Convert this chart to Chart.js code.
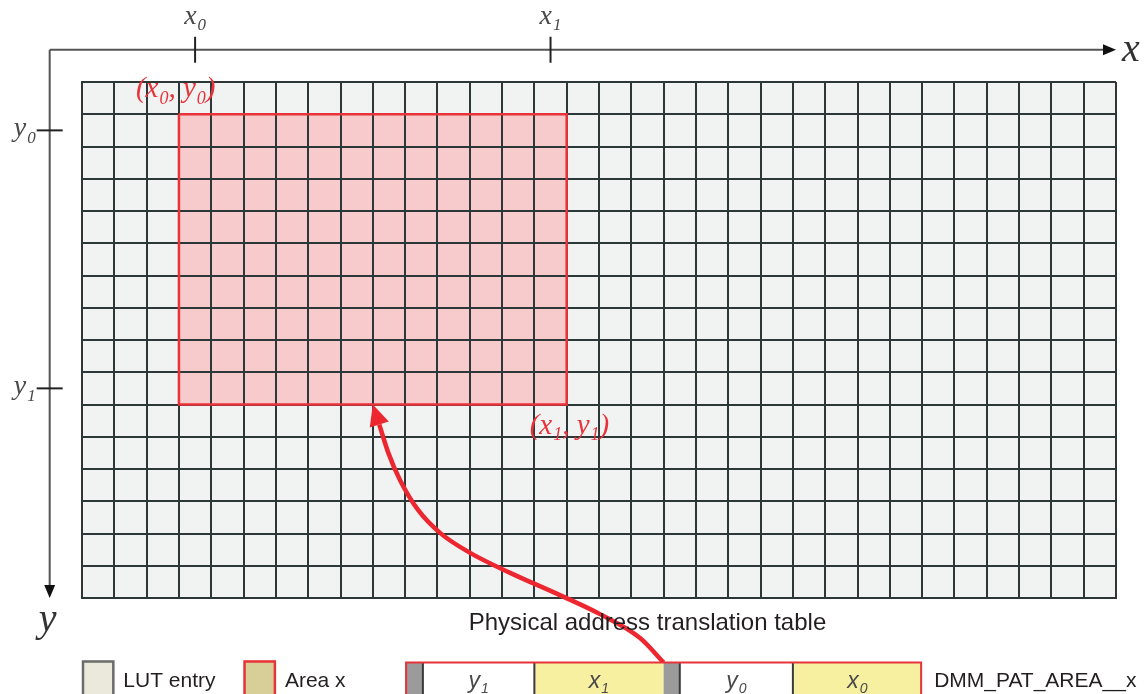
<!DOCTYPE html>
<html><head><meta charset="utf-8">
<script src="https://cdn.jsdelivr.net/npm/chart.js@4.4.0/dist/chart.umd.min.js"></script>
<style>html,body{margin:0;padding:0;background:#fff}canvas{display:block}</style>
</head><body>
<canvas id="c" width="1145" height="694"></canvas>
<script>
// ---- data ----
const gridCols = 32;           // LUT entries per row
const gridRows = 16;           // LUT rows
const areaCols = [3, 15];      // Area x column span [x0, x1+1)
const areaRows = [1, 10];      // Area x row span [y0, y1+1)
const xTickLabels = ['x0', 'x1'];
const xTickValues = [3.5, 14.5];
const yTickLabels = ['y0', 'y1'];
const yTickValues = [1.5, 9.5];
const cornerLabels = ['(x0, y0)', '(x1, y1)'];
// pointer curve: from the area (tip) down to the register
const arrowX = [9, 9.2, 9.48, 9.84, 10.4, 11.08, 12.01, 13.25, 14.79, 16.03, 17.27, 18];
const arrowY = [10, 10.62, 11.5, 12.34, 13.27, 13.98, 14.6, 15.22, 15.91, 16.5, 17.24, 18];
// register DMM_PAT_AREA__x fields
const fieldLabels = ['', 'y1', 'x1', '', 'y0', 'x0'];
const fieldKinds = ['pad', 'y', 'x', 'pad', 'y', 'x'];
const fieldStart = [10, 10.55, 14, 18, 18.5, 22];
const fieldEnd = [10.55, 14, 18, 18.5, 22, 26];
const registerName = 'DMM_PAT_AREA__x';
const tableTitle = 'Physical address translation table';
const legendLabels = ['LUT entry', 'Area x'];

// ---- styling ----
const SERIF = '"Liberation Serif", "DejaVu Serif", serif';
const SANS = '"Liberation Sans", Arial, sans-serif';
const RED = '#e8333b';
const GRID = '#2c3838';

function drawSubLabel(ctx, text, x, y, size, family, color, align, italic) {
  // text like "x0" or "(x0, y0)": digit after a letter is drawn as subscript
  const parts = [];
  for (let i = 0; i < text.length; i++) {
    const ch = text[i];
    const sub = /[0-9]/.test(ch) && i > 0 && /[a-z]/i.test(text[i - 1]);
    parts.push([ch, sub]);
  }
  const fMain = (italic ? 'italic ' : '') + size + 'px ' + family;
  const fSub = (italic ? 'italic ' : '') + Math.round(size * 0.62) + 'px ' + family;
  let w = 0;
  parts.forEach(p => { ctx.font = p[1] ? fSub : fMain; w += ctx.measureText(p[0]).width + (p[1] ? 1 : 0); });
  let cx = align === 'center' ? x - w / 2 : align === 'right' ? x - w : x;
  ctx.fillStyle = color;
  ctx.textAlign = 'left';
  parts.forEach(p => {
    ctx.font = p[1] ? fSub : fMain;
    ctx.fillText(p[0], cx + (p[1] ? 1 : 0), y + (p[1] ? size * 0.22 : 0));
    cx += ctx.measureText(p[0]).width + (p[1] ? 1 : 0);
  });
}

function arrowHead(ctx, tx, ty, fx, fy, len, half, color) {
  const dx = tx - fx, dy = ty - fy, d = Math.hypot(dx, dy);
  const ux = dx / d, uy = dy / d;
  const bx = tx - ux * len, by = ty - uy * len;
  ctx.beginPath();
  ctx.moveTo(tx, ty);
  ctx.lineTo(bx - uy * half, by + ux * half);
  ctx.lineTo(bx + uy * half, by - ux * half);
  ctx.closePath();
  ctx.fillStyle = color;
  ctx.fill();
}

const diagram = {
  id: 'diagram',
  beforeDraw(chart) {
    const { ctx, scales: { x, y } } = chart;
    const X = v => x.getPixelForValue(v), Y = v => y.getPixelForValue(v);
    ctx.save();
    ctx.fillStyle = '#f1f3f2';
    ctx.fillRect(X(0), Y(0), X(gridCols) - X(0), Y(gridRows) - Y(0));
    ctx.fillStyle = '#f7cbcb';
    ctx.fillRect(X(areaCols[0]), Y(areaRows[0]), X(areaCols[1]) - X(areaCols[0]), Y(areaRows[1]) - Y(areaRows[0]));
    ctx.restore();
  },
  afterDraw(chart) {
    const { ctx, scales: { x, y } } = chart;
    const X = v => x.getPixelForValue(v), Y = v => y.getPixelForValue(v);
    ctx.save();
    ctx.textBaseline = 'alphabetic';
    // coordinate axes
    const ax = X(-1), ay = Y(-1);
    ctx.strokeStyle = '#555';
    ctx.lineWidth = 2;
    ctx.beginPath();
    ctx.moveTo(ax, ay); ctx.lineTo(X(gridCols) - 10, ay);
    ctx.moveTo(ax, ay); ctx.lineTo(ax, Y(gridRows) - 10);
    ctx.stroke();
    arrowHead(ctx, X(gridCols), ay, X(gridCols) - 20, ay, 13, 5.5, '#111');
    arrowHead(ctx, ax, Y(gridRows), ax, Y(gridRows) - 20, 13, 5.5, '#111');
    ctx.font = 'italic 40px ' + SERIF;
    ctx.fillStyle = '#333';
    ctx.textAlign = 'left';
    ctx.fillText('x', X(gridCols) + 6, ay + 11);
    ctx.textAlign = 'center';
    ctx.fillText('y', ax - 2, Y(gridRows) + 33);
    // ticks
    ctx.strokeStyle = '#222';
    ctx.lineWidth = 2;
    xTickValues.forEach((v, i) => {
      ctx.beginPath(); ctx.moveTo(X(v), ay - 13); ctx.lineTo(X(v), ay + 13); ctx.stroke();
      drawSubLabel(ctx, xTickLabels[i], X(v), ay - 26, 28, SERIF, '#4a4a4a', 'center', true);
    });
    yTickLabels.forEach((t, i) => {
      const v = yTickValues[i];
      ctx.beginPath(); ctx.moveTo(ax - 13, Y(v)); ctx.lineTo(ax + 13, Y(v)); ctx.stroke();
      drawSubLabel(ctx, t, ax - 14, Y(v) + 6, 28, SERIF, '#4a4a4a', 'right', true);
    });
    // corner labels
    drawSubLabel(ctx, cornerLabels[0], X(areaCols[0]) - 43, Y(areaRows[0]) - 17, 29, SERIF, RED, 'left', true);
    drawSubLabel(ctx, cornerLabels[1], X(areaCols[1]) - 37, Y(areaRows[1]) + 29, 29, SERIF, RED, 'left', true);
    // pointer arrow head
    arrowHead(ctx, X(arrowX[0]), Y(arrowY[0]), X(arrowX[1]), Y(arrowY[1]), 21, 10, '#ec2730');
    // table title
    ctx.font = '24px ' + SANS;
    ctx.fillStyle = '#231f20';
    ctx.textAlign = 'center';
    ctx.fillText(tableTitle, X(17.5), Y(16.75) + 8);
    // legend
    const top = Y(18) - 2, bot = Y(19.1);
    const boxes = [[0, '#ebe8dc', '#6b6b6b'], [5, '#d8cf98', RED]];
    boxes.forEach((b, i) => {
      ctx.fillStyle = b[1];
      ctx.fillRect(X(b[0]), top, X(b[0] + 1) - X(b[0]), bot - top);
      ctx.strokeStyle = b[2];
      ctx.lineWidth = 2.5;
      ctx.strokeRect(X(b[0]) + 1, top + 1, X(b[0] + 1) - X(b[0]) - 2, bot - top);
      ctx.font = '21px ' + SANS;
      ctx.fillStyle = '#231f20';
      ctx.textAlign = 'left';
      ctx.fillText(legendLabels[i], X(b[0] + 1) + 9, top + 26);
    });
    // register
    const rt = Y(18), rb = Y(19.1);
    fieldStart.forEach((s, i) => {
      const k = fieldKinds[i];
      ctx.fillStyle = k === 'pad' ? '#9b9b9b' : k === 'x' ? '#f7f0a0' : '#ffffff';
      ctx.fillRect(X(s), rt, X(fieldEnd[i]) - X(s), rb - rt);
    });
    ctx.strokeStyle = '#3a3a3a';
    ctx.lineWidth = 2;
    fieldStart.forEach((s, i) => {
      if (i > 0 && fieldKinds[i] !== 'pad') {
        ctx.beginPath(); ctx.moveTo(X(s), rt); ctx.lineTo(X(s), rb); ctx.stroke();
      }
    });
    ctx.strokeStyle = RED;
    ctx.lineWidth = 2;
    ctx.strokeRect(X(fieldStart[0]) + 1, rt, X(fieldEnd[fieldEnd.length - 1]) - X(fieldStart[0]) - 2, rb - rt);
    fieldLabels.forEach((t, i) => {
      if (!t) return;
      drawSubLabel(ctx, t, (X(fieldStart[i]) + X(fieldEnd[i])) / 2, rt + 25, 23, SANS, '#4a4a4a', 'center', true);
    });
    ctx.font = '21px ' + SANS;
    ctx.fillStyle = '#231f20';
    ctx.textAlign = 'left';
    ctx.fillText(registerName, X(fieldEnd[fieldEnd.length - 1]) + 12, rt + 24);
    ctx.restore();
  }
};

const areaOutline = [
  { x: areaCols[0], y: areaRows[0] }, { x: areaCols[1], y: areaRows[0] },
  { x: areaCols[1], y: areaRows[1] }, { x: areaCols[0], y: areaRows[1] },
  { x: areaCols[0], y: areaRows[0] }
];
const arrowPts = arrowX.slice(1).map((v, i) => ({ x: v, y: arrowY[i + 1] }));

new Chart(document.getElementById('c'), {
  type: 'scatter',
  data: {
    datasets: [
      { label: 'Area x', data: areaOutline, showLine: true, borderColor: RED, borderWidth: 2.5,
        pointRadius: 0, tension: 0, fill: false, clip: false },
      { label: 'pointer', data: arrowPts, showLine: true, borderColor: '#ec2730', borderWidth: 4.5,
        pointRadius: 0, cubicInterpolationMode: 'monotone', fill: false, clip: false }
    ]
  },
  options: {
    responsive: false,
    animation: false,
    events: [],
    layout: { padding: { left: 82, top: 82, right: 29, bottom: 96 } },
    plugins: { legend: { display: false }, tooltip: { enabled: false } },
    scales: {
      x: { type: 'linear', min: 0, max: gridCols,
           ticks: { display: false, stepSize: 1 },
           grid: { color: GRID, lineWidth: 2, drawTicks: false },
           border: { display: true, color: GRID, width: 2 } },
      y: { type: 'linear', min: 0, max: gridRows, reverse: true,
           ticks: { display: false, stepSize: 1 },
           grid: { color: GRID, lineWidth: 2, drawTicks: false },
           border: { display: true, color: GRID, width: 2 } }
    }
  },
  plugins: [diagram]
});
</script>
</body></html>
